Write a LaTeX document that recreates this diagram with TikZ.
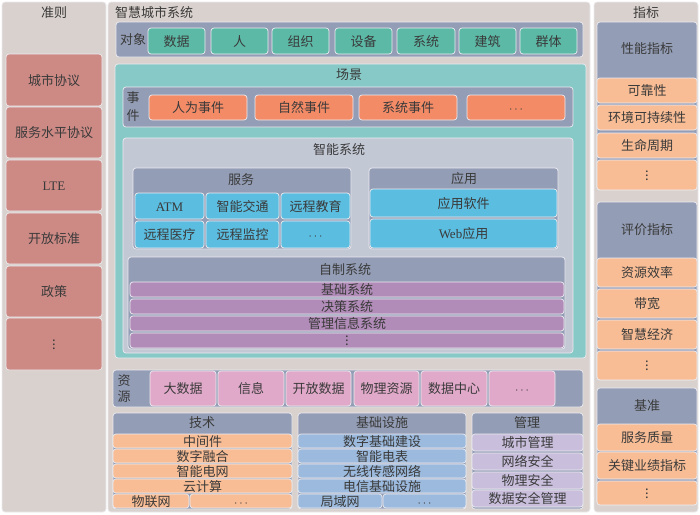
\documentclass[tikz,border=0pt]{standalone}
\usepackage{fontspec}
\setmainfont{Noto Sans CJK SC}
\newfontfamily\lat{Liberation Serif}
\definecolor{panel}{HTML}{D9D1CD}
\definecolor{redb}{HTML}{CD8A85}
\definecolor{grayb}{HTML}{939DB5}
\definecolor{teal}{HTML}{5BB9A6}
\definecolor{scene}{HTML}{86C9C6}
\definecolor{evt}{HTML}{F38B67}
\definecolor{smart}{HTML}{C3C8D5}
\definecolor{cyanb}{HTML}{5BBDE0}
\definecolor{purp}{HTML}{B28CB9}
\definecolor{pinkb}{HTML}{E1A9C9}
\definecolor{peach}{HTML}{F8BD95}
\definecolor{lblue}{HTML}{9CBADD}
\definecolor{lav}{HTML}{C9BFDD}
\definecolor{txt}{HTML}{3A3A3A}
\definecolor{edge}{HTML}{ECECF0}
\tikzset{
  base/.style={rounded corners=3pt, draw=edge, line width=0.7pt, inner sep=0pt,
    text=txt, font=\fontsize{13}{15}\selectfont, text height=10.5pt, text depth=0.5pt},
  pnl/.style={base, fill=panel},
  title/.style={text=txt, font=\fontsize{13}{15}\selectfont, inner sep=0pt, align=center},
}
\newcommand\bx[7]{%
  \pgfmathsetmacro\bw{#5-#3}\pgfmathsetmacro\bh{#6-#4}%
  \pgfmathsetmacro\bcx{(#3+#5)/2}\pgfmathsetmacro\bcy{(#4+#6)/2}%
  \node[base,#1,minimum width=\bw pt,minimum height=\bh pt] (#2) at (\bcx,\bcy) {#7};}
\begin{document}
\begin{tikzpicture}[x=1pt,y=-1pt]
\useasboundingbox (0,0) rectangle (700,514);
\fill[white] (0,0) rectangle (700,514);
% panels
\bx{pnl}{pL}{2}{2}{106}{512}{}
\bx{pnl}{pM}{108}{2}{590}{512}{}
\bx{pnl}{pR}{594}{2}{698}{512}{}
\node[title] (tL) at (54,13) {准则};
\node[title,anchor=west] (tM) at (115,13) {智慧城市系统};
\node[title] (tR) at (646,13) {指标};
% left column
\bx{fill=redb}{l1}{6}{54}{102}{106}{城市协议}
\bx{fill=redb}{l2}{6}{107}{102}{158}{服务水平协议}
\bx{fill=redb}{l3}{6}{160}{102}{211}{\lat LTE}
\bx{fill=redb}{l4}{6}{213}{102}{264}{开放标准}
\bx{fill=redb}{l5}{6}{266}{102}{317}{政策}
\bx{fill=redb}{l6}{6}{318}{102}{370}{$\vdots$}
% objects
\bx{fill=grayb}{obj}{116}{22}{583}{57}{}
\node[title] (tobj) at (133,40) {对象};
\bx{fill=teal}{o1}{148}{28}{205}{54}{数据}
\bx{fill=teal}{o2}{211}{28}{268}{54}{人}
\bx{fill=teal}{o3}{272}{28}{329}{54}{组织}
\bx{fill=teal}{o4}{335}{28}{392}{54}{设备}
\bx{fill=teal}{o5}{397}{28}{455}{54}{系统}
\bx{fill=teal}{o6}{459}{28}{516}{54}{建筑}
\bx{fill=teal}{o7}{520}{28}{577}{54}{群体}
% scene
\bx{fill=scene}{scn}{115}{64}{586}{358}{}
\node[title] (tscn) at (349,75) {场景};
\bx{fill=grayb}{evr}{123}{87}{573}{127}{}
\node[title] (tev) at (133,107) {事\\[3pt]件};
\bx{fill=evt}{e1}{149}{95}{247}{120}{人为事件}
\bx{fill=evt}{e2}{255}{95}{353}{120}{自然事件}
\bx{fill=evt}{e3}{359}{95}{457}{120}{系统事件}
\bx{fill=evt}{e4}{467}{95}{565}{120}{$\cdots$}
% smart systems
\bx{fill=smart}{sm}{123}{138}{573}{353}{}
\node[title] (tsm) at (339,150) {智能系统};
\bx{fill=grayb}{sv}{133}{168}{351}{249}{}
\node[title] (tsv) at (241,180) {服务};
\bx{fill=cyanb}{s1}{135}{193}{204}{219}{\lat ATM}
\bx{fill=cyanb}{s2}{206}{193}{279}{219}{智能交通}
\bx{fill=cyanb}{s3}{281}{193}{350}{219}{远程教育}
\bx{fill=cyanb}{s4}{135}{221}{204}{248}{远程医疗}
\bx{fill=cyanb}{s5}{206}{221}{279}{248}{远程监控}
\bx{fill=cyanb}{s6}{281}{221}{350}{248}{$\cdots$}
\bx{fill=grayb}{ap}{369}{168}{558}{249}{}
\node[title] (tap) at (464,179) {应用};
\bx{fill=cyanb}{a1}{370}{189}{557}{217}{应用软件}
\bx{fill=cyanb}{a2}{370}{219}{557}{248}{{\lat Web}应用}
\bx{fill=grayb}{own}{128}{257}{565}{349}{}
\node[title] (town) at (345,270) {自制系统};
\bx{fill=purp}{w1}{130}{282}{564}{297}{基础系统}
\bx{fill=purp}{w2}{130}{299}{564}{314}{决策系统}
\bx{fill=purp}{w3}{130}{316}{564}{331}{管理信息系统}
\bx{fill=purp}{w4}{130}{333}{564}{348}{$\vdots$}
% resources
\bx{fill=grayb}{res}{113}{370}{583}{407}{}
\node[title] (tres) at (124,389) {资\\[1pt]源};
\bx{fill=pinkb}{r1}{150}{371}{216}{406}{大数据}
\bx{fill=pinkb}{r2}{218}{371}{284}{406}{信息}
\bx{fill=pinkb}{r3}{286}{371}{351}{406}{开放数据}
\bx{fill=pinkb}{r4}{354}{371}{419}{406}{物理资源}
\bx{fill=pinkb}{r5}{421}{371}{487}{406}{数据中心}
\bx{fill=pinkb}{r6}{489}{371}{555}{406}{$\cdots$}
% technology
\bx{fill=grayb}{tec}{113}{413}{292}{509}{}
\node[title] (ttec) at (202,423) {技术};
\bx{fill=peach}{t1}{113}{434}{292}{448}{中间件}
\bx{fill=peach}{t2}{113}{449}{292}{463}{数字融合}
\bx{fill=peach}{t3}{113}{464}{292}{478}{智能电网}
\bx{fill=peach}{t4}{113}{479}{292}{493}{云计算}
\bx{fill=peach}{t5}{113}{494}{189}{508}{物联网}
\bx{fill=peach}{t6}{190}{494}{292}{508}{$\cdots$}
% infrastructure
\bx{fill=grayb}{inf}{298}{413}{466}{509}{}
\node[title] (tinf) at (382,423) {基础设施};
\bx{fill=lblue}{i1}{298}{434}{466}{448}{数字基础建设}
\bx{fill=lblue}{i2}{298}{449}{466}{463}{智能电表}
\bx{fill=lblue}{i3}{298}{464}{466}{478}{无线传感网络}
\bx{fill=lblue}{i4}{298}{479}{466}{493}{电信基础设施}
\bx{fill=lblue}{i5}{298}{494}{382}{508}{局域网}
\bx{fill=lblue}{i6}{383}{494}{466}{508}{$\cdots$}
% management
\bx{fill=grayb}{mgt}{472}{413}{583}{509}{}
\node[title] (tmgt) at (527,423) {管理};
\bx{fill=lav}{m1}{472}{434}{583}{451}{城市管理}
\bx{fill=lav}{m2}{472}{453}{583}{470}{网络安全}
\bx{fill=lav}{m3}{472}{472}{583}{489}{物理安全}
\bx{fill=lav}{m4}{472}{490}{583}{507}{数据安全管理}
% right column
\bx{fill=grayb}{g1}{597}{22}{697}{190}{}
\node[title] (tg1) at (647,49) {性能指标};
\bx{fill=peach}{k1}{597}{78}{697}{103}{可靠性}
\bx{fill=peach}{k2}{597}{105}{697}{130}{环境可持续性}
\bx{fill=peach}{k3}{597}{133}{697}{158}{生命周期}
\bx{fill=peach}{k4}{597}{160}{697}{190}{$\vdots$}
\bx{fill=grayb}{g2}{597}{202}{697}{380}{}
\node[title] (tg2) at (647,230) {评价指标};
\bx{fill=peach}{k5}{597}{258}{697}{287}{资源效率}
\bx{fill=peach}{k6}{597}{289}{697}{318}{带宽}
\bx{fill=peach}{k7}{597}{320}{697}{349}{智慧经济}
\bx{fill=peach}{k8}{597}{351}{697}{380}{$\vdots$}
\bx{fill=grayb}{g3}{597}{388}{697}{505}{}
\node[title] (tg3) at (647,406) {基准};
\bx{fill=peach}{k9}{597}{424}{697}{451}{服务质量}
\bx{fill=peach}{k10}{597}{452}{697}{479}{关键业绩指标}
\bx{fill=peach}{k11}{597}{481}{697}{505}{$\vdots$}
\end{tikzpicture}
\end{document}
